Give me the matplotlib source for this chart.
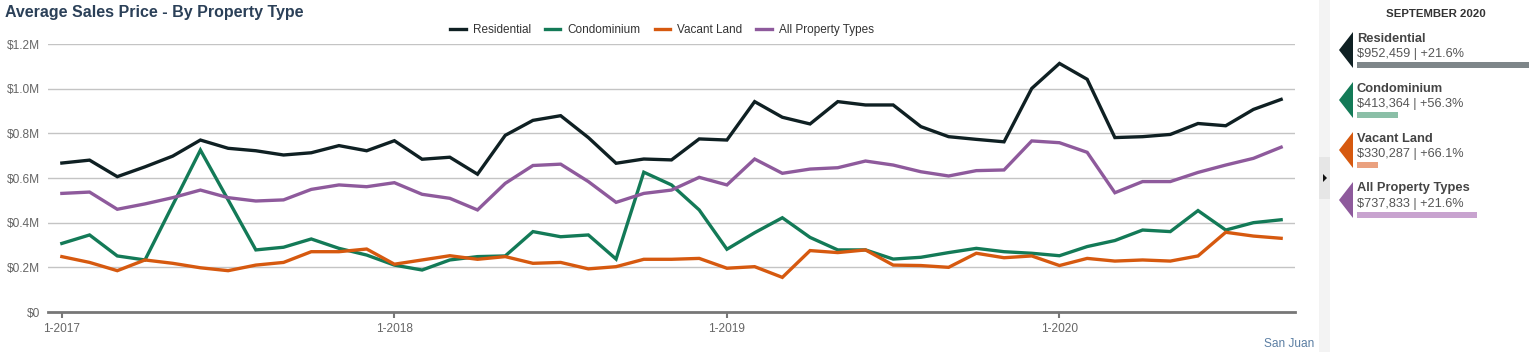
import matplotlib.pyplot as plt
from matplotlib.patches import Polygon, Rectangle

plt.rcParams['font.family'] = ['Liberation Sans', 'DejaVu Sans']

# Monthly average sales price, 1-2017 .. 9-2020 (45 months)
residential = [667, 680, 606, 650, 698, 770, 733, 722, 703, 713, 745, 722,
               767, 684, 693, 617, 791, 858, 879, 781, 666, 685, 681, 775,
               770, 942, 872, 842, 942, 927, 927, 830, 785, 773, 762, 1001,
               1113, 1042, 781, 785, 795, 844, 834, 907, 952]
condominium = [307, 345, 251, 233, 479, 725, 502, 278, 290, 327, 285, 255,
               210, 188, 233, 248, 251, 360, 337, 345, 237, 626, 569, 457,
               281, 355, 422, 334, 278, 278, 237, 245, 266, 285, 270, 263,
               252, 293, 320, 367, 360, 454, 367, 400, 413]
vacant_land = [248, 222, 185, 233, 218, 198, 185, 210, 222, 270, 270, 282,
               214, 233, 252, 236, 248, 218, 222, 193, 203, 236, 236, 240,
               196, 203, 155, 275, 266, 278, 210, 208, 200, 263, 243, 251,
               208, 240, 228, 233, 228, 251, 357, 340, 330]
all_types = [531, 537, 460, 484, 512, 546, 512, 497, 502, 549, 569, 561,
             579, 527, 509, 457, 576, 656, 662, 584, 491, 531, 546, 603,
             569, 685, 621, 640, 646, 676, 658, 628, 609, 633, 636, 766,
             758, 715, 534, 584, 584, 625, 658, 688, 738]

series_names = ['Residential', 'Condominium', 'Vacant Land', 'All Property Types']
series_colors = ['#0f2023', '#137a57', '#d6590f', '#8e5a9c']
bar_colors = ['#7e8689', '#8bbfa7', '#eaa17f', '#c8a3cf']
latest_values = [952459, 413364, 330287, 737833]
latest_changes = ['+21.6%', '+56.3%', '+66.1%', '+21.6%']
month_label = 'SEPTEMBER 2020'
year_ticks = [0, 12, 24, 36]
year_labels = ['1-2017', '1-2018', '1-2019', '1-2020']

W, H = 1537, 352
fig = plt.figure(figsize=(W / 100, H / 100), dpi=100)

ax = fig.add_axes([48 / W, 40 / H, (1295 - 48) / W, (312 - 44) / H])
months = list(range(len(residential)))
for vals, name, col in zip([residential, condominium, vacant_land, all_types],
                           series_names, series_colors):
    ax.plot(months, [v * 1000 for v in vals], color=col, lw=2.4, label=name,
            solid_joinstyle='miter')

ax.set_xlim(-0.5, 44.5)
ax.set_ylim(0, 1.2e6)
yt = [0, 2e5, 4e5, 6e5, 8e5, 1e6, 1.2e6]
ax.set_yticks(yt)
ax.set_yticklabels(['$0'] + ['$%.1fM' % (v / 1e6) for v in yt[1:]])
ax.set_xticks(year_ticks)
ax.set_xticklabels(year_labels)
ax.tick_params(axis='y', length=0, pad=6, labelsize=8.6, labelcolor='#666666')
ax.tick_params(axis='x', length=4, width=1.5, color='#777777', pad=4,
               labelsize=8.6, labelcolor='#666666')
for y in yt[1:]:
    ax.axhline(y, color='#c4c4c4', lw=1, zorder=0)
for s in ['top', 'right', 'left']:
    ax.spines[s].set_visible(False)
ax.spines['bottom'].set_color('#777777')
ax.spines['bottom'].set_linewidth(2)

fig.legend(loc='center', bbox_to_anchor=(662 / W, 1 - 30 / H), ncol=4,
           frameon=False, fontsize=8.5, handlelength=1.3, handletextpad=0.6,
           columnspacing=1.2, labelcolor='#333333')

fig.text(5 / W, 1 - 17 / H, 'Average Sales Price - By Property Type',
         fontsize=11.5, fontweight='bold', color='#2b4058', va='baseline')
fig.text(1314 / W, 1 - 347 / H, 'San Juan', fontsize=8.6, color='#5b7ea3',
         ha='right', va='baseline')

# side panel in pixel coordinates
side = fig.add_axes([1300 / W, 0, (W - 1300) / W, 1])
side.set_xlim(1300, W)
side.set_ylim(H, 0)
side.axis('off')
side.add_patch(Rectangle((1319, 0), 11, H, color='#f3f3f3', lw=0))
side.add_patch(Rectangle((1319, 157), 11, 42, color='#e6e6e6', lw=0))
side.add_patch(Polygon([(1323, 174), (1327, 178), (1323, 182)], color='#111111', lw=0))
side.text(1436, 17, month_label, fontsize=8.2, fontweight='bold', color='#333333',
          ha='center', va='baseline')

base = 245000
top = max(latest_values)
for k, (name, col, bcol, v, ch) in enumerate(zip(series_names, series_colors, bar_colors,
                                                 latest_values, latest_changes)):
    y0 = 32 + 50 * k
    side.add_patch(Polygon([(1339, y0 + 18), (1353, y0), (1353, y0 + 36)], color=col, lw=0))
    side.text(1357, y0 + 9.5, name, fontsize=9.3, fontweight='bold', color='#444444',
              va='baseline')
    side.text(1357, y0 + 25, '${:,} | {}'.format(v, ch), fontsize=9.2, color='#555555',
              va='baseline')
    side.add_patch(Rectangle((1357, y0 + 30), 172 * (v - base) / (top - base), 6,
                             color=bcol, lw=0))

fig.savefig('out.png', dpi=100)
